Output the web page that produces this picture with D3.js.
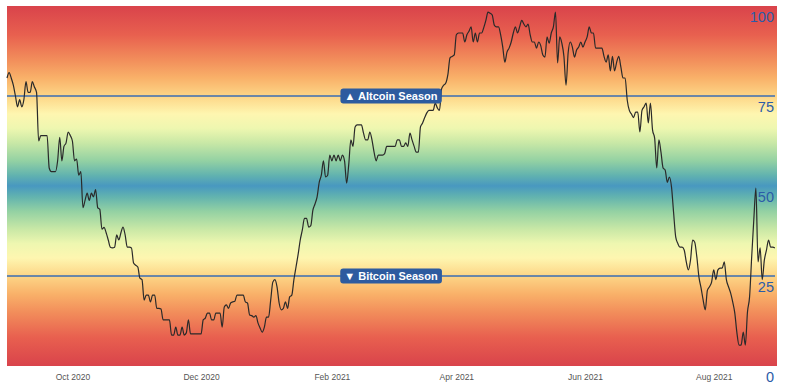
<!DOCTYPE html>
<html>
<head>
<meta charset="utf-8">
<script src="https://cdn.jsdelivr.net/npm/d3@7"></script>
<style>
  body { margin: 0; background: #fff; }
  svg { display: block; font-family: "Liberation Sans", Arial, sans-serif; }
</style>
</head>
<body>
<svg id="chart"></svg>
<script>
// daily altcoin season index, starting 2020-08-31
const startDate = "2020-08-31";
const endDate = "2021-08-31";
const indexValues = [
  80, 81.5, 80, 78, 75, 72, 74, 72, 74, 79, 76, 76, 79, 77.5, 76, 62.5, 64, 64, 64, 64,
  55, 54, 54, 54, 57, 63.5, 57, 61, 62, 65, 64, 62.5, 57, 57.5, 53, 54, 44, 46, 48, 46,
  48, 47, 49, 44, 43.5, 38, 38.5, 37, 35, 33, 32.8, 33, 36.4, 35, 37, 38.6, 36.4, 33, 33, 32.8,
  28.6, 28, 27.5, 24.4, 24, 18.3, 19.7, 19.7, 17.8, 19.7, 19.7, 16, 16, 15.8, 12.8, 12.8, 12.8, 12.8, 8.6, 8.6,
  10.8, 8.6, 8.6, 10.8, 8.6, 9.2, 12.8, 8.9, 8.9, 8.9, 8.9, 8.9, 8.9, 12.8, 13.3, 14.7, 14.7, 12.8, 12.8, 14.7,
  14.7, 14.7, 10.8, 16.4, 17, 16, 17.5, 17.8, 18, 19.7, 19.7, 19.7, 19.7, 17.8, 17.5, 14.2, 14, 13.6, 14, 11.9,
  10.5, 9.4, 10.8, 13.6, 13.6, 18.3, 23.3, 24, 22, 17.5, 15.6, 16, 17.8, 16, 19.2, 19.7, 24, 27.5, 31, 35,
  37.8, 41, 41, 38.6, 39, 43.3, 45, 47, 51, 53, 57, 52.5, 53, 58.6, 57, 58.6, 57, 58.6, 57, 58.6,
  57, 50.8, 56, 62.8, 61, 66.4, 67, 67, 67, 64.7, 62.8, 62.8, 65, 62.8, 59.4, 57, 58.6, 58.6, 58.6, 59,
  61, 61, 61, 61, 61, 62.8, 62.8, 61, 61, 62, 61, 64.7, 62.8, 61, 59.4, 59.4, 66.4, 67.5, 69, 70.3,
  71, 71, 71, 73, 71.7, 71, 77, 78, 78.6, 81, 85.6, 86, 86.4, 92, 92.5, 92.5, 92.5, 90, 92, 93,
  94.2, 90, 92.5, 90, 92.5, 92.5, 94, 96, 98.3, 98, 97.5, 94.7, 94.2, 94.2, 92, 88.6, 84.4, 87.2, 88.3, 90,
  92.5, 94.2, 92.5, 94.2, 96, 95, 94.2, 95, 92, 90, 90, 88.3, 90, 89, 86.4, 85.8, 91.4, 89.7, 92.5, 94.2,
  98.3, 84.2, 91.4, 89.7, 86, 78, 87, 90, 88.6, 85.8, 87.8, 88.6, 90, 88.6, 90, 91.4, 94.2, 92.5, 92.5, 88.3,
  88.3, 88.3, 88.3, 86, 84.4, 86.4, 82, 86, 82, 84.4, 86, 83, 80, 80, 73.9, 71, 70, 69, 70.5, 70.5,
  65, 71, 72, 73, 67.5, 73, 65.6, 63.3, 55, 62.8, 59.4, 55, 54.4, 51, 52.5, 49.7, 42.5, 35.8, 34, 33,
  33, 32.2, 28.9, 26.7, 29.4, 35, 34.4, 30.3, 24.7, 21.7, 18.3, 15.6, 21, 22, 23.3, 26.7, 24, 26.7, 27.2, 27.2,
  28.9, 24, 22, 20.3, 17.8, 14.7, 9.2, 5.8, 5.8, 9.4, 5.8, 15, 19.2, 30.3, 40.6, 49.4, 28.9, 32.8, 24, 29.4,
  32.2, 35, 33, 33, 32.8
];
const xTickDates = ["2020-10-01", "2020-12-01", "2021-02-01", "2021-04-01", "2021-06-01", "2021-08-01"];
const yTicks = [0, 25, 50, 75, 100];
const thresholds = [
  { value: 75, label: "\u25B2 Altcoin Season" },
  { value: 25, label: "\u25BC Bitcoin Season" }
];
const badgeDate = "2021-03-01";
// background colour bands (index value -> colour)
const bandValues = [100, 92, 85, 80, 75, 70, 66, 62, 57, 53, 50, 47, 43, 38, 34, 30, 25, 20, 15, 8, 0];
const bandColors = ["#d9434b", "#e8604f", "#f28e5b", "#f9b169", "#fdd586", "#fef6b0", "#eef7b0", "#c9e8a6", "#93d1a3", "#62b3af", "#4898c0",
  "#62b3af", "#93d1a3", "#c9e8a6", "#eef7b0", "#fef6b0", "#fdd586", "#f9b169", "#f28e5b", "#e8604f", "#d9434b"];

const W = 789, H = 389;
const margin = { top: 6, right: 12, bottom: 23, left: 7 };
const width = W - margin.left - margin.right;
const height = H - margin.top - margin.bottom;
const parse = d3.timeParse("%Y-%m-%d");

const data = indexValues.map((v, i) => ({ date: d3.timeDay.offset(parse(startDate), i), value: v }));

const svg = d3.select("#chart").attr("width", W).attr("height", H);
const g = svg.append("g").attr("transform", "translate(" + margin.left + "," + margin.top + ")");

const x = d3.scaleTime().domain([parse(startDate), parse(endDate)]).range([0, width]);
const y = d3.scaleLinear().domain([0, 100]).range([height, 0]);

// gradient background
const grad = svg.append("defs").append("linearGradient")
  .attr("id", "bg").attr("x1", 0).attr("y1", 0).attr("x2", 0).attr("y2", 1);
grad.selectAll("stop").data(bandValues).join("stop")
  .attr("offset", d => (100 - d) + "%")
  .attr("stop-color", (d, i) => bandColors[i]);
g.append("rect").attr("width", width).attr("height", height).attr("fill", "url(#bg)");

// x axis
const xAxis = g.append("g")
  .attr("transform", "translate(0," + height + ")")
  .call(d3.axisBottom(x).tickValues(xTickDates.map(parse)).tickFormat(d3.timeFormat("%b %Y")).tickSize(0).tickPadding(8));
xAxis.select(".domain").remove();
xAxis.selectAll("text").attr("font-size", "8.5px").attr("fill", "#555").attr("font-family", "Liberation Sans, Arial, sans-serif");

// y labels on the right, just below each grid value
g.append("g").selectAll("text").data(yTicks).join("text")
  .attr("x", width - 3)
  .attr("y", d => y(d) + 16)
  .attr("text-anchor", "end")
  .attr("font-size", "14.5px")
  .attr("fill", "#2b5ca8")
  .text(d => d);

// threshold lines
g.append("g").selectAll("line").data(thresholds).join("line")
  .attr("x1", 0).attr("x2", width - 2)
  .attr("y1", d => y(d.value)).attr("y2", d => y(d.value))
  .attr("stroke", "#3a6cb3").attr("stroke-width", 1.5);

// index line
const line = d3.line().x(d => x(d.date)).y(d => y(d.value)).curve(d3.curveMonotoneX);
g.append("path").datum(data)
  .attr("fill", "none").attr("stroke", "#2a2a2a").attr("stroke-width", 1.2)
  .attr("d", line);

// threshold badges
const badges = g.append("g").selectAll("g").data(thresholds).join("g")
  .attr("transform", d => "translate(" + x(parse(badgeDate)) + "," + y(d.value) + ")");
badges.each(function (d) {
  const b = d3.select(this);
  const rect = b.append("rect").attr("fill", "#2d5b9f").attr("rx", 3);
  const t = b.append("text")
    .attr("text-anchor", "middle").attr("dy", "0.36em")
    .attr("font-size", "11px").attr("font-weight", "bold").attr("fill", "#fff")
    .text(d.label);
  const bb = t.node().getBBox();
  rect.attr("x", bb.x - 4).attr("y", -7.5).attr("width", bb.width + 8).attr("height", 15);
});
</script>
</body>
</html>
